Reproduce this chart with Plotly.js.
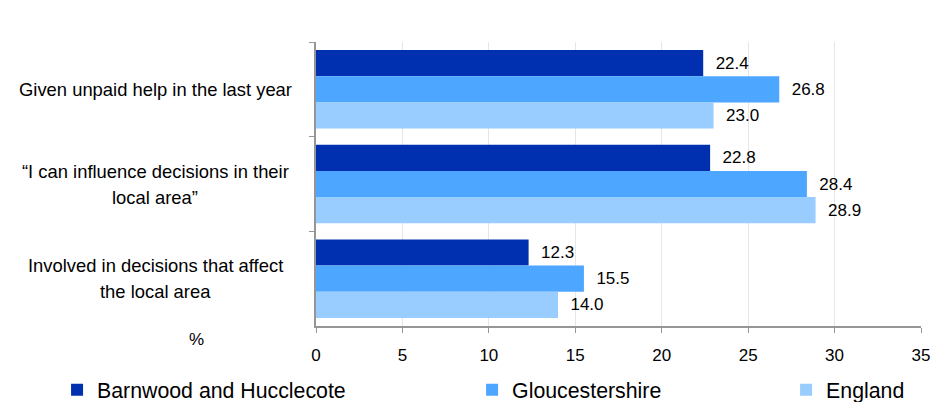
<!DOCTYPE html>
<html>
<head>
<meta charset="utf-8">
<script src="https://cdn.plot.ly/plotly-3.0.1.min.js"></script>
<style>html,body{margin:0;padding:0;background:#fff;}#chart{width:940px;height:402px;}</style>
</head>
<body>
<div id="chart"></div>
<script>
// ---- data ----
const categories = [
  "Given unpaid help in the last year",
  "\u201cI can influence decisions in their|local area\u201d",
  "Involved in decisions that affect|the local area"
];
const seriesNames = ["Barnwood and Hucclecote", "Gloucestershire", "England"];
const barnwood = [22.4, 22.8, 12.3];
const gloucestershire = [26.8, 28.4, 15.5];
const england = [23.0, 28.9, 14.0];
const xTicks = [0, 5, 10, 15, 20, 25, 30, 35];
const unitLabel = "%";

// ---- styling ----
const FONT = "Liberation Sans, Arial, sans-serif";
const colors = ["#0030B0", "#4DA6FF", "#99CCFF"];
const values = [barnwood, gloucestershire, england];
const legendIds = ["legend", "legend2", "legend3"];

const traces = values.map((v, i) => ({
  type: "bar",
  orientation: "h",
  name: seriesNames[i],
  y: categories,
  x: v,
  marker: { color: colors[i], line: { width: 0 } },
  text: v.map(d => d.toFixed(1)),
  texttemplate: "\u00a0\u00a0%{text}",
  textposition: "outside",
  textfont: { family: FONT, size: 17, color: "#000" },
  constraintext: "none",
  cliponaxis: false,
  hoverinfo: "skip",
  legend: legendIds[i]
}));

// category labels as centered annotations, one per line
const annotations = [];
categories.forEach((c) => {
  const lines = c.split("|");
  lines.forEach((ln, j) => {
    annotations.push({
      xref: "paper", yref: "y",
      x: -0.266, y: c,
      xanchor: "center", yanchor: "middle",
      text: ln, showarrow: false,
      yshift: -((j - (lines.length - 1) / 2) * 26),
      font: { family: FONT, size: 18.4, color: "#000" }
    });
  });
});
annotations.push({
  xref: "paper", yref: "paper", x: -0.198, y: -0.046,
  xanchor: "center", yanchor: "middle", text: unitLabel, showarrow: false,
  font: { family: FONT, size: 17, color: "#000" }
});

const legendBase = {
  orientation: "h", yanchor: "middle", y: -0.225, xanchor: "left",
  font: { family: FONT, size: 21.3, color: "#000" },
  bgcolor: "rgba(0,0,0,0)", borderwidth: 0, itemwidth: 30
};

const layout = {
  width: 940, height: 402,
  margin: { l: 316, r: 19, t: 42, b: 76, pad: 0, autoexpand: false },
  paper_bgcolor: "#fff", plot_bgcolor: "#fff",
  barmode: "group", bargap: 0.17, bargroupgap: 0,
  font: { family: FONT, size: 17, color: "#000" },
  xaxis: {
    range: [0, 35], tickvals: xTicks, ticktext: xTicks.map(String),
    showgrid: true, gridcolor: "#e6e6e6", gridwidth: 1,
    zeroline: false, showline: true, linecolor: "#969696", linewidth: 2,
    ticks: "outside", ticklen: 5, tickcolor: "#969696", tickwidth: 1,
    tickfont: { family: FONT, size: 17, color: "#000" },
    ticklabelstandoff: 8, fixedrange: true, automargin: false
  },
  yaxis: {
    autorange: "reversed", type: "category",
    showticklabels: false, showgrid: false, zeroline: false,
    showline: true, linecolor: "#969696", linewidth: 2,
    ticks: "outside", ticklen: 5, tickcolor: "#969696", tickson: "boundaries",
    fixedrange: true, automargin: false
  },
  showlegend: true,
  legend: Object.assign({}, legendBase, { x: -0.428 }),
  legend2: Object.assign({}, legendBase, { x: 0.258 }),
  legend3: Object.assign({}, legendBase, { x: 0.777 }),
  annotations: annotations
};

Plotly.newPlot("chart", traces, layout, { displayModeBar: false, staticPlot: true });
</script>
</body>
</html>
